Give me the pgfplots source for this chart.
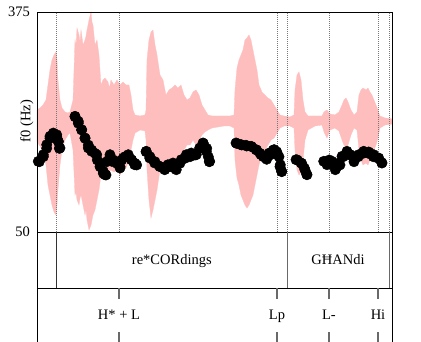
\documentclass[border=0pt]{standalone}
\usepackage{fontspec}
\setmainfont{Liberation Serif}
\usepackage{pgfplots}
\pgfplotsset{compat=1.18}
\usepackage{pgfplotstable}
\definecolor{wave}{RGB}{255,190,190}
\definecolor{tiergray}{RGB}{105,105,105}
\definecolor{dotgray}{RGB}{120,120,120}

\pgfplotstableread{
t up lo
0 12 -20
0.0067 14 -24
0.0135 17 -30
0.0202 22 -43
0.0247 37 -63
0.0292 52 -73
0.0337 62 -83
0.0382 67 -90
0.0427 70 -93
0.0450 62 -83
0.0472 42 -68
0.0517 22 -43
0.0562 14 -28
0.0630 10 -18
0.0697 9 -13
0.0742 10 -11
0.0810 22 -28
0.0855 82 -73
0.0878 76 -70
0.0900 94 -78
0.0945 87 -83
0.0968 80 -76
0.0990 92 -73
0.1035 77 -83
0.1080 82 -93
0.1103 86 -88
0.1125 92 -98
0.1170 102 -108
0.1215 110 -103
0.1237 100 -98
0.1259 97 -93
0.1304 77 -88
0.1349 82 -78
0.1394 67 -68
0.1439 37 -53
0.1484 42 -53
0.1529 44 -50
0.1597 40 -53
0.1630 34 -49
0.1664 42 -48
0.1732 37 -50
0.1799 42 -48
0.1867 37 -53
0.1934 40 -48
0.2002 37 -46
0.2069 37 -38
0.2114 27 -28
0.2159 12 -18
0.2204 7 -11
0.2317 6 -8
0.2429 7 -9
0.2452 12 -18
0.2474 62 -48
0.2519 82 -78
0.2564 90 -96
0.2609 92 -88
0.2654 77 -78
0.2699 67 -68
0.2766 47 -48
0.2834 42 -43
0.2901 27 -38
0.2969 32 -38
0.3036 34 -36
0.3104 37 -40
0.3171 34 -43
0.3239 37 -38
0.3306 27 -28
0.3374 22 -23
0.3441 24 -23
0.3509 30 -18
0.3576 32 -23
0.3644 27 -18
0.3711 17 -13
0.3778 12 -10
0.3846 7 -8
0.3936 6 -6
0.4071 6 -5
0.4206 6 -4
0.4341 6 -4
0.4431 7 -6
0.4453 32 -38
0.4498 54 -56
0.4543 62 -63
0.4588 67 -73
0.4633 72 -78
0.4678 82 -83
0.4723 84 -86
0.4768 87 -83
0.4813 82 -78
0.4858 72 -73
0.4903 62 -63
0.4948 52 -53
0.4993 37 -43
0.5060 30 -33
0.5128 27 -28
0.5195 24 -23
0.5263 22 -18
0.5330 17 -16
0.5398 12 -11
0.5465 7 -6
0.5555 6 -4
0.5690 5 -4
0.5780 7 -6
0.5803 32 -28
0.5848 47 -48
0.5893 50 -53
0.5938 42 -50
0.5983 22 -38
0.6028 10 -18
0.6095 6 -8
0.6253 6 -4
0.6410 6 -3
0.6455 10 -10
0.6522 12 -16
0.6590 8 -8
0.6702 7 -6
0.6792 10 -9
0.6860 17 -18
0.6905 22 -23
0.6950 24 -26
0.6995 20 -23
0.7062 12 -13
0.7130 7 -6
0.7197 10 -8
0.7242 27 -28
0.7287 32 -38
0.7332 34 -43
0.7399 32 -41
0.7444 34 -43
0.7489 30 -38
0.7534 27 -33
0.7579 22 -28
0.7624 17 -23
0.7669 12 -16
0.7714 6 -6
0.7827 4 -3
0.8 3 -2
}\wavetable

\pgfplotstableread{
t f
0.0029 154.4
0.0052 153.8
0.0142 164.2
0.0142 161.2
0.0218 179.0
0.0218 173.6
0.0292 191.4
0.0292 188.4
0.0367 196.2
0.0367 194.3
0.0443 193.7
0.0443 190.8
0.0479 184.0
0.0479 183.4
0.0502 173.6
0.0517 174.1
0.0855 220.9
0.0855 220.3
0.0929 213.5
0.0929 210.6
0.1005 201.1
0.1005 200.7
0.1080 188.9
0.1080 188.4
0.1154 174.1
0.1154 178.5
0.1230 169.2
0.1230 171.1
0.1304 166.3
0.1343 164.2
0.1356 156.4
0.1417 151.9
0.1417 146.5
0.1491 139.7
0.1491 136.7
0.1529 134.6
0.1552 134.2
0.1568 153.8
0.1642 164.2
0.1642 161.2
0.1680 154.4
0.1716 156.4
0.1754 154.4
0.1793 151.5
0.1867 144.5
0.1867 146.5
0.1905 156.4
0.1941 159.3
0.1979 161.2
0.2053 164.2
0.2053 161.2
0.2121 156.8
0.2130 156.4
0.2197 149.4
0.2204 151.5
0.2242 149.0
0.2452 168.6
0.2458 169.2
0.2535 159.3
0.2542 161.2
0.2647 151.9
0.2654 153.8
0.2760 147.1
0.2766 146.5
0.2872 142.0
0.2879 143.1
0.2946 149.4
0.2991 146.5
0.3059 151.9
0.3104 144.1
0.3133 142.0
0.3216 151.5
0.3245 156.8
0.3329 158.9
0.3358 164.2
0.3441 161.2
0.3470 166.7
0.3554 163.7
0.3583 164.2
0.3659 174.1
0.3666 173.6
0.3733 181.5
0.3740 181.0
0.3808 169.2
0.3817 173.6
0.3853 161.2
0.3875 153.8
0.3884 154.4
0.4476 181.5
0.4491 181.0
0.4588 179.0
0.4604 178.5
0.4701 178.1
0.4716 177.0
0.4813 176.6
0.4829 176.0
0.4926 171.6
0.4941 171.1
0.5015 166.3
0.5038 164.2
0.5090 161.2
0.5150 159.3
0.5166 157.4
0.5225 166.7
0.5240 163.7
0.5315 171.1
0.5337 171.6
0.5391 168.6
0.5414 164.2
0.5443 161.2
0.5465 146.5
0.5472 149.4
0.5504 139.7
0.5504 139.1
0.5825 156.8
0.5854 156.4
0.5938 151.9
0.5953 151.5
0.6012 144.5
0.6028 141.6
0.6066 135.2
0.6073 134.6
0.6448 154.4
0.6477 153.8
0.6522 149.4
0.6574 156.4
0.6635 154.4
0.6664 151.5
0.6709 142.0
0.6725 144.1
0.6786 151.9
0.6815 149.0
0.6860 161.8
0.6889 161.2
0.6965 166.3
0.6972 169.2
0.7040 163.7
0.7047 164.2
0.7123 159.3
0.7130 153.8
0.7226 161.2
0.7235 164.2
0.7339 166.3
0.7348 169.2
0.7451 166.3
0.7460 168.2
0.7564 161.2
0.7573 164.2
0.7676 158.9
0.7685 159.3
0.7753 152.4
0.7760 151.9
}\pitchtable

\begin{document}
\fontsize{14.5}{17}\selectfont
\begin{tikzpicture}
\path[use as bounding box] (0,0) rectangle (421pt,342pt);
% waveform
\begin{axis}[at={(37pt,110pt)}, anchor=south west, scale only axis,
  width=355.7pt, height=220pt, xmin=0, xmax=0.8, ymin=-110, ymax=110,
  axis lines=none, xtick=\empty, ytick=\empty]
\addplot[fill=wave, draw=wave, line width=0.3pt] table[x=t,y=up]{\wavetable} \closedcycle;
\addplot[fill=wave, draw=wave, line width=0.3pt] table[x=t,y=lo]{\wavetable} \closedcycle;
\end{axis}
% pitch
\begin{axis}[at={(37pt,110pt)}, anchor=south west, scale only axis,
  width=355.7pt, height=220pt, xmin=0, xmax=0.8, ymin=50, ymax=375,
  axis line style={line width=0.8pt}, xtick=\empty, ytick={50,375},
  major tick length=0pt,
  yticklabel style={anchor=base east, inner sep=0pt, xshift=-7pt, yshift=-5pt},
  /pgf/number format/assume math mode=true]
\pgfplotsinvokeforeach{0.0443,0.1844,0.5398,0.5622,0.6567,0.767,0.7917}{
  \addplot[dotgray, line width=0.7pt, dash pattern=on 0.9pt off 1.1pt] coordinates {(#1,50) (#1,375)};
}
\addplot[only marks, mark=*, mark size=5.2pt, black] table[x=t,y=f]{\pitchtable};
\node[anchor=base west, inner sep=0pt, xshift=5.5pt, yshift=-5pt] at (rel axis cs:1,0) {0.8s};
\end{axis}
\node[rotate=90, anchor=base, inner sep=0pt] at (30.5pt,221pt) {f0 (Hz)};
% tiers
\begin{axis}[at={(37pt,0pt)}, anchor=south west, scale only axis,
  width=355.7pt, height=110pt, xmin=0, xmax=0.8, ymin=0, ymax=110,
  axis lines=none, xtick=\empty, ytick=\empty, clip=false]
\addplot[black, line width=0.8pt] coordinates {(0,54) (0.8,54)};
\addplot[black, line width=0.8pt] coordinates {(0,0) (0,110)};
\addplot[black, line width=0.8pt] coordinates {(0.8,0) (0.8,110)};
\addplot[black!80, line width=0.9pt] coordinates {(0.0443,54) (0.0443,110)};
\addplot[tiergray, line width=0.9pt] coordinates {(0.5622,54) (0.5622,110)};
\addplot[tiergray, line width=0.9pt] coordinates {(0.7917,54) (0.7917,110)};
\pgfplotsinvokeforeach{0.1844,0.5398,0.6567,0.767}{
  \addplot[tiergray, line width=1.6pt] coordinates {(#1,54) (#1,43)};
  \addplot[tiergray, line width=1.6pt] coordinates {(#1,10) (#1,0)};
}
\node[anchor=base] at (axis cs:0.3033,77) {re*CORdings};
\node[anchor=base] at (axis cs:0.677,77) {GĦANdi};
\node[anchor=base] at (axis cs:0.1844,22) {H* + L};
\node[anchor=base] at (axis cs:0.5398,22) {Lp};
\node[anchor=base] at (axis cs:0.6567,22) {L-};
\node[anchor=base] at (axis cs:0.767,22) {Hi};
\end{axis}
\end{tikzpicture}
\end{document}
